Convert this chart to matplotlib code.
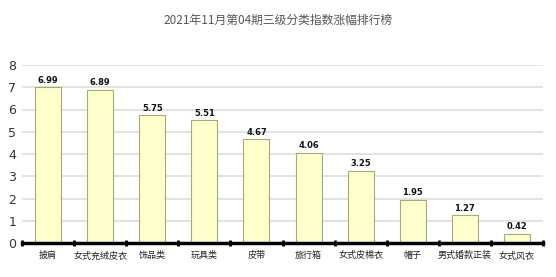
import matplotlib
matplotlib.use("Agg")
import matplotlib.pyplot as plt
import numpy as np

plt.rcParams['font.family'] = ['Noto Sans CJK SC', 'DejaVu Sans']

# Données
categories = ["披肩", "女式充绒皮衣", "饰品类", "玩具类", "皮带",
              "旅行箱", "女式皮棉衣", "帽子", "男式婚款正装", "女式风衣"]
valeurs = [6.99, 6.89, 5.75, 5.51, 4.67, 4.06, 3.25, 1.95, 1.27, 0.42]
titre = "2021年11月第04期三级分类指数涨幅排行榜"

fig = plt.figure(figsize=(5.56, 2.77), dpi=100)
ax = fig.add_axes([22 / 556, 34 / 277, 521 / 556, 178 / 277])

x = np.arange(len(categories))
ax.bar(x, valeurs, width=0.5, color="#ffffcc", edgecolor="#a8a878", linewidth=0.8, zorder=3)
for xi, v in zip(x, valeurs):
    ax.text(xi, v + 0.1, f"{v:.2f}", ha="center", va="bottom", fontsize=6,
            fontweight="bold", family="DejaVu Sans", color="#111111")

ax.set_xlim(-0.5, 9.5)
ax.set_ylim(0, 8)
ax.set_yticks(range(9))
ax.tick_params(axis="y", length=0, labelsize=9, labelcolor="#333333", pad=4)
ax.set_yticklabels([str(i) for i in range(9)], family="DejaVu Sans")
ax.grid(axis="y", color="#dddddd", linewidth=1.2, zorder=0)

ax.set_xticks(x)
ax.set_xticklabels(categories, fontsize=6.5, color="#222222")
ax.tick_params(axis="x", length=0, pad=6)
ax.set_xticks(np.arange(-0.5, 10, 1), minor=True)
ax.tick_params(axis="x", which="minor", length=5, width=2, direction="inout", color="black")

for s in ["top", "right", "left"]:
    ax.spines[s].set_visible(False)
ax.spines["bottom"].set_linewidth(2.5)
ax.spines["bottom"].set_zorder(4)

fig.text(0.5, 0.925, titre, ha="center", va="center", fontsize=8.5, color="#555555")

fig.savefig("out.png", dpi=100)
